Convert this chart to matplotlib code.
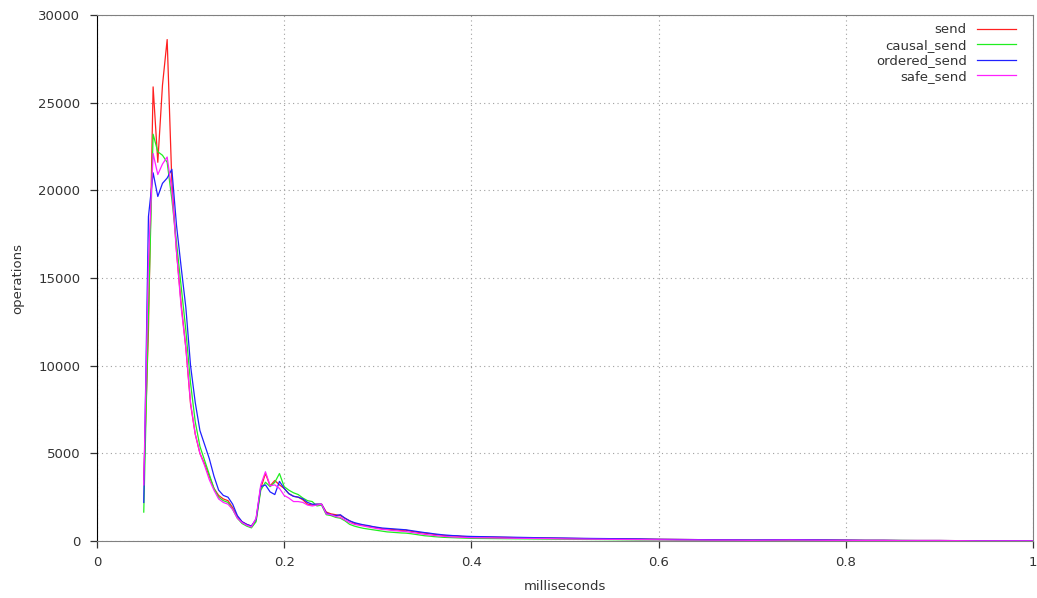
import numpy as np
import matplotlib
matplotlib.use('Agg')
import matplotlib.pyplot as plt

# latency histogram, 0.005 ms bins from 0.05 to 0.40, then coarser tail
x_head = np.round(0.05 + 0.005 * np.arange(71), 3)
x_tail = np.round(0.42 + 0.02 * np.arange(30), 3)
ms = np.concatenate([x_head, x_tail])

send = [3500, 12000, 25900, 21600, 26000, 28600, 20500, 16500, 13500, 11000,
        7800, 6100, 5000, 4400, 3700, 3000, 2600, 2400, 2300, 1900,
        1400, 1100, 950, 850, 1200, 3000, 3850, 3150, 3450, 3200,
        3000, 2700, 2550, 2500, 2350, 2100, 2050, 2100, 2100, 1650,
        1550, 1500, 1450, 1300, 1150, 1000, 950, 900, 850, 800,
        750, 700, 680, 660, 640, 600, 620, 560, 520, 480,
        450, 420, 380, 350, 320, 300, 290, 280, 260, 250, 240,
        220, 200, 180, 170, 150, 140, 130, 120, 110, 100,
        90, 80, 70, 60, 50, 50, 60, 70, 60, 50,
        40, 40, 30, 30, 30, 20, 20, 20, 20, 20]

causal_send = [1650, 13000, 23200, 22200, 22000, 21600, 19500, 17000, 14500, 12000,
               9000, 6800, 5400, 4600, 3800, 3000, 2500, 2300, 2200, 1800,
               1300, 1000, 850, 750, 1100, 2900, 3350, 3100, 3350, 3850,
               3100, 2900, 2750, 2650, 2450, 2300, 2250, 2000, 2050, 1500,
               1450, 1350, 1300, 1150, 950, 850, 780, 720, 680, 640,
               600, 560, 520, 500, 480, 460, 450, 420, 380, 340,
               300, 280, 250, 230, 210, 200, 190, 180, 170, 160, 150,
               140, 130, 120, 110, 100, 90, 80, 70, 60, 60,
               50, 50, 40, 40, 40, 50, 60, 50, 40, 40,
               30, 30, 30, 20, 20, 20, 20, 10, 10, 10]

ordered_send = [2200, 18500, 21000, 19650, 20400, 20700, 21200, 18000, 15600, 13300,
                10000, 7900, 6300, 5500, 4700, 3700, 2900, 2600, 2500, 2100,
                1450, 1100, 950, 850, 1250, 3100, 3200, 2800, 2650, 3400,
                3000, 2700, 2550, 2500, 2400, 2200, 2100, 2100, 2100, 1600,
                1500, 1450, 1500, 1300, 1150, 1050, 980, 920, 880, 820,
                780, 740, 720, 700, 680, 660, 640, 600, 560, 520,
                480, 450, 410, 380, 350, 330, 310, 300, 280, 270, 260,
                240, 220, 200, 180, 170, 150, 140, 130, 120, 100,
                90, 80, 70, 70, 60, 70, 80, 70, 60, 50,
                40, 40, 30, 30, 30, 20, 20, 20, 20, 20]

safe_send = [3200, 16000, 22100, 20900, 21500, 21900, 20000, 16500, 13300, 11000,
             7900, 6100, 5000, 4300, 3500, 2900, 2400, 2200, 2100, 1800,
             1300, 1050, 900, 800, 1300, 3200, 3950, 3150, 3200, 3000,
             2600, 2450, 2250, 2250, 2200, 2050, 2000, 2050, 2100, 1550,
             1500, 1400, 1350, 1200, 1050, 950, 900, 850, 800, 750,
             700, 660, 640, 600, 580, 560, 540, 500, 460, 420,
             380, 350, 320, 290, 270, 250, 230, 220, 210, 200, 190,
             180, 160, 150, 140, 120, 110, 100, 90, 80, 70,
             60, 60, 50, 50, 40, 50, 60, 50, 40, 40,
             30, 30, 20, 20, 20, 20, 10, 10, 10, 10]

series = {'send': send, 'causal_send': causal_send,
          'ordered_send': ordered_send, 'safe_send': safe_send}
colors = ['#ff2020', '#20ee20', '#2020ff', '#ff20ff']

fig = plt.figure(figsize=(10.37, 5.98), dpi=100)
ax = fig.add_axes([0.0935, 0.0953, 0.9026, 0.8796])

for (name, vals), c in zip(series.items(), colors):
    ax.plot(ms, vals, color=c, lw=0.9, label=name)

ax.set_xlim(0, 1)
ax.set_ylim(0, 30000)
ax.set_xticks([0, 0.2, 0.4, 0.6, 0.8, 1])
ax.set_xticklabels(['0', '0.2', '0.4', '0.6', '0.8', '1'])
ax.set_yticks(range(0, 30001, 5000))
ax.grid(True, color='#a0a0a0', linestyle=(0, (1, 3)), lw=0.8)
ax.tick_params(direction='out', length=5, width=0.9, labelsize=9.5,
               color='#333333', labelcolor='#333333')
ax.tick_params(axis='x', pad=5.5)
ax.tick_params(axis='y', pad=7)
for sp in ax.spines.values():
    sp.set_color('#808080')
ax.spines['left'].set_color('#000000')
ax.set_xlabel('milliseconds', fontsize=9.5, color='#333333', labelpad=8)
ax.set_ylabel('operations', fontsize=9.5, color='#333333', labelpad=10)

leg = ax.legend(loc='upper right', frameon=False, markerfirst=False,
                fontsize=9.5, handlelength=2.9, labelspacing=0.19,
                borderaxespad=0.6, bbox_to_anchor=(0.9957, 1.0095))
for t in leg.get_texts():
    t.set_color('#333333')
    t.set_ha('right')

fig.savefig('out.png', dpi=100)
